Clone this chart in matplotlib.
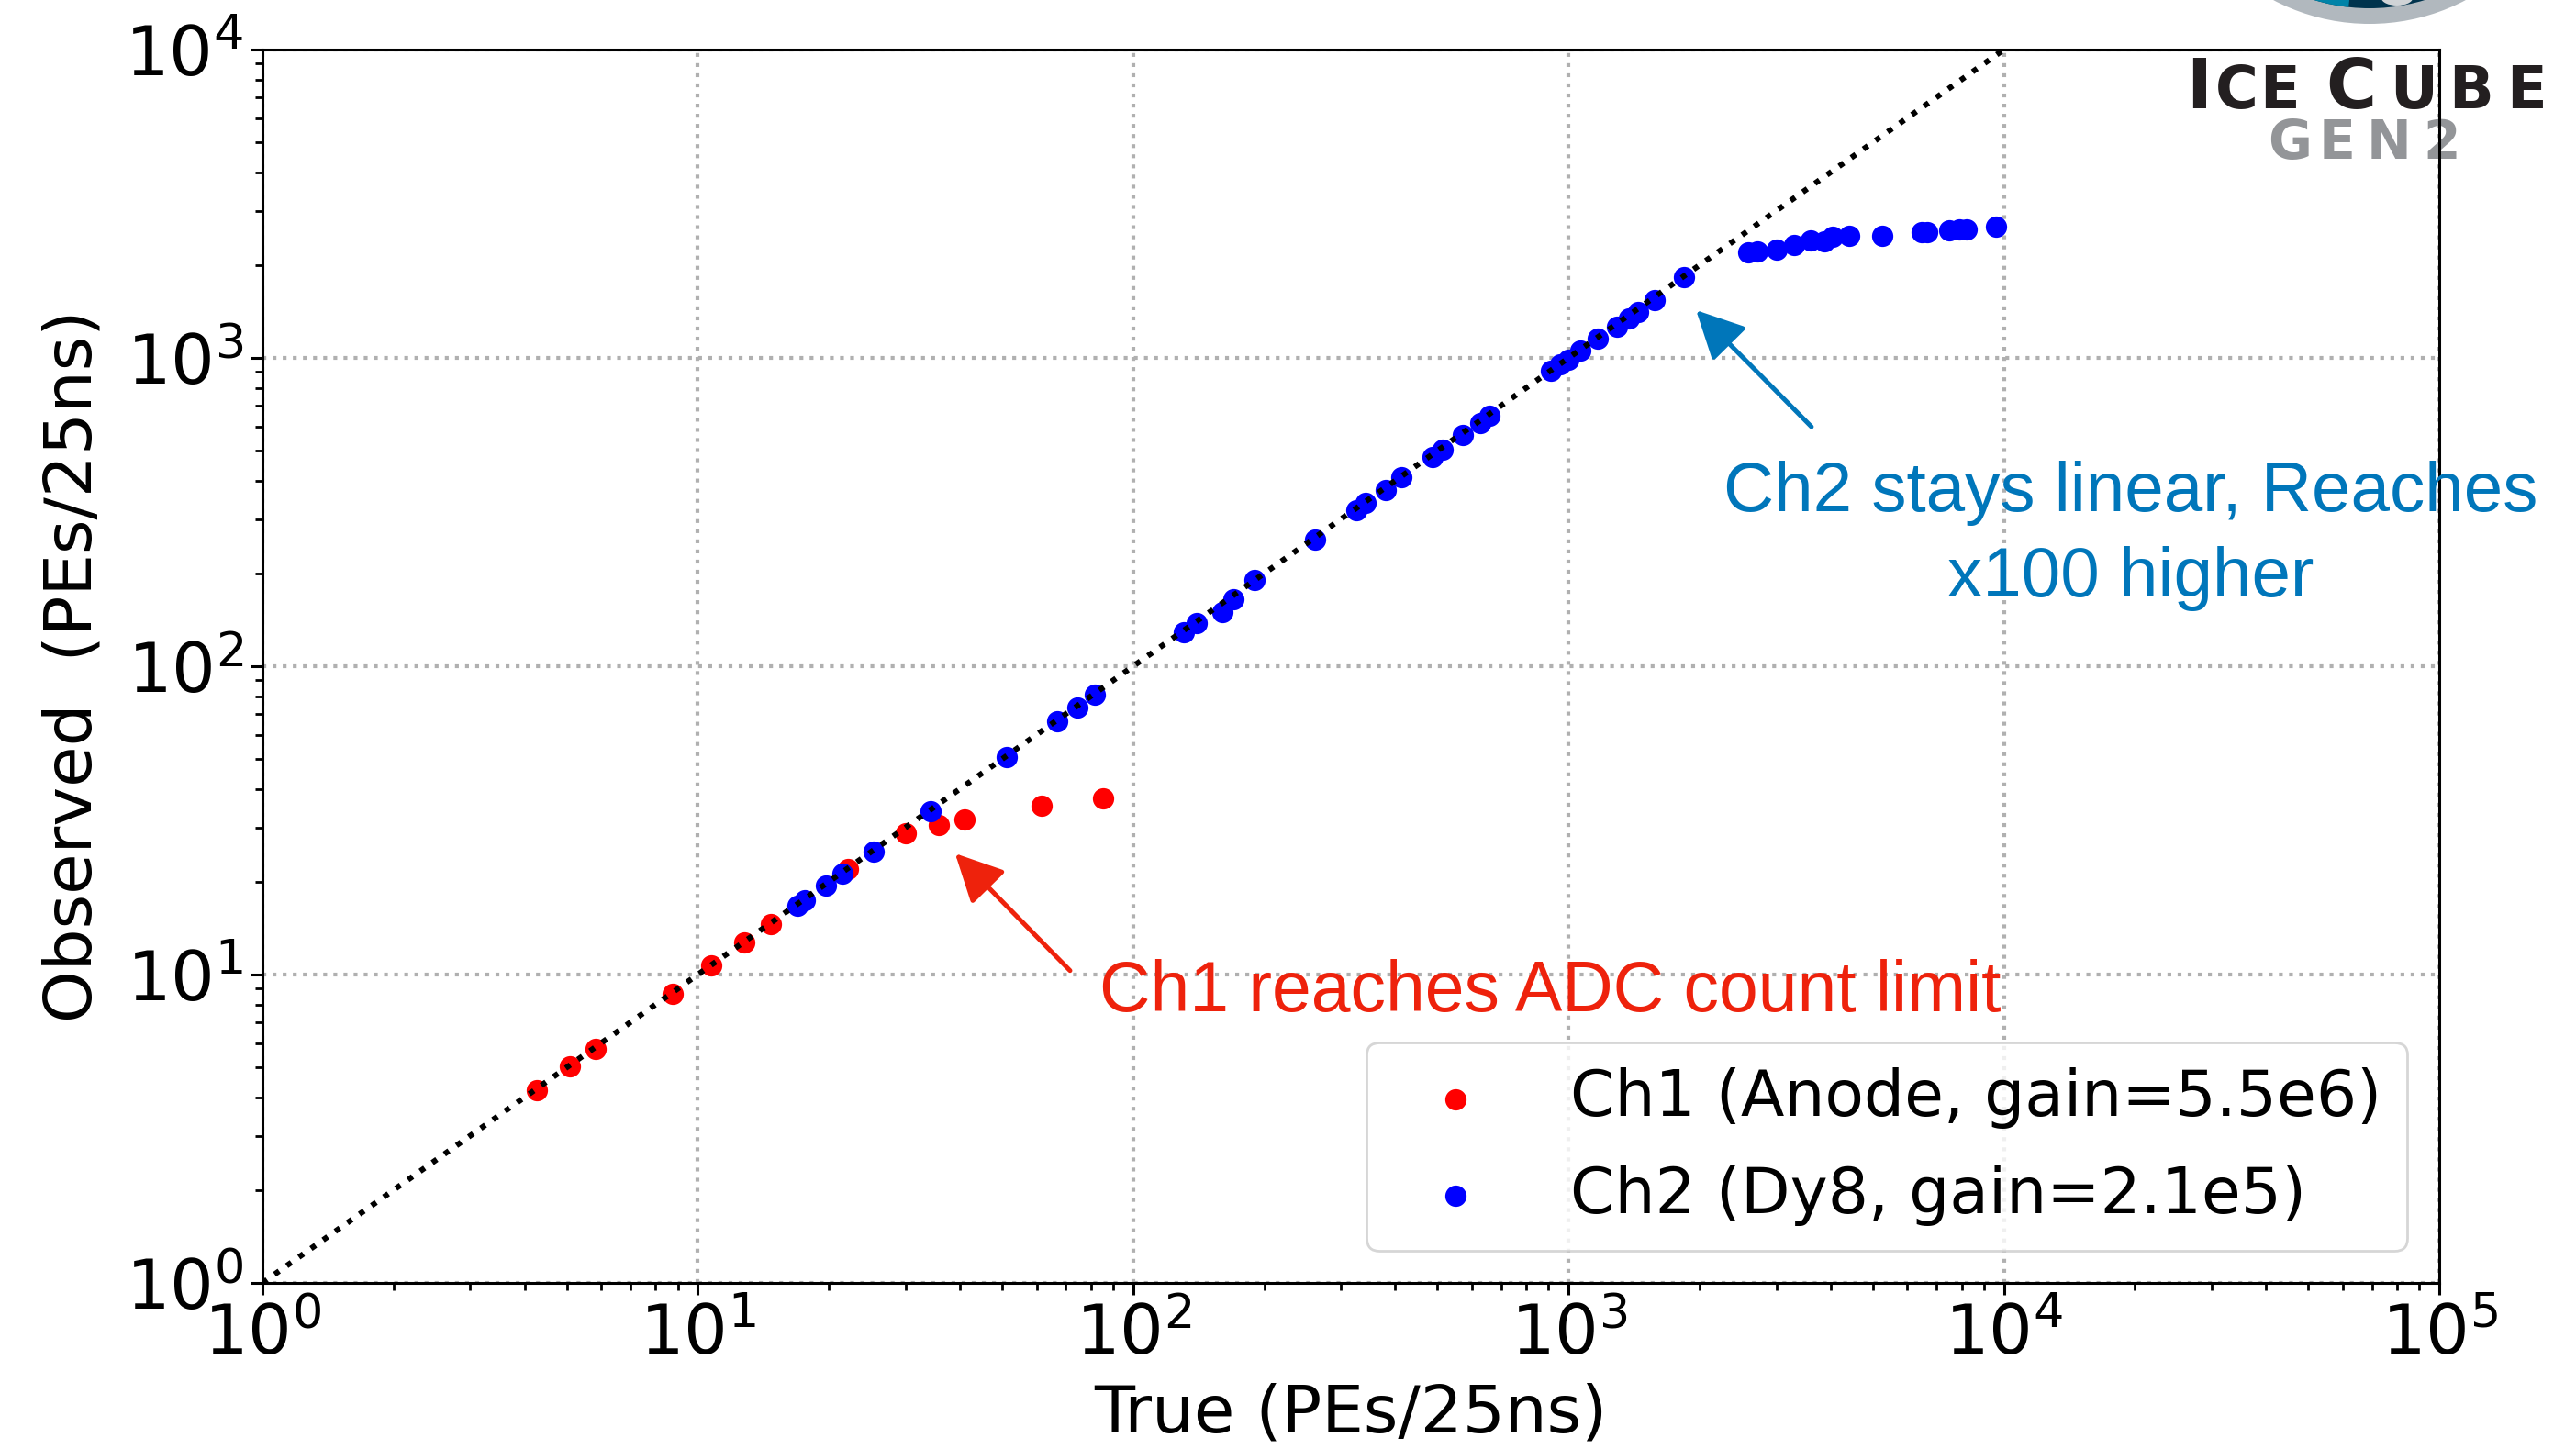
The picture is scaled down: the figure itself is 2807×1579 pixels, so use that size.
import numpy as np
import matplotlib
matplotlib.use("Agg")
import matplotlib.pyplot as plt
from matplotlib import patches, transforms

# ---------------- data ----------------
ch1_true = [4.27, 5.08, 5.83, 8.75, 10.75, 12.8, 14.7, 22.1, 30.1, 35.7, 41.0, 61.6, 85.4]
ch1_obs = [4.21, 5.03, 5.75, 8.68, 10.73, 12.7, 14.6, 22.0, 28.7, 30.5, 31.9, 35.4, 37.3]

ch2_true = [16.9, 17.6, 19.7, 21.5, 25.3, 34.3, 51.3, 66.9, 74.6, 81.6,
            131, 140, 160, 170, 190,
            262, 325, 341, 380, 412, 486, 515, 571, 626, 658,
            910, 956, 997, 1066, 1165, 1291, 1374, 1444, 1575, 1841,
            2590, 2713, 3004, 3299, 3606, 3873, 4033, 4413, 5250,
            6460, 6665, 7470, 7900, 8200, 9570]
ch2_obs = [16.7, 17.4, 19.4, 21.2, 25.0, 33.9, 50.7, 66.3, 73.6, 81.1,
           129, 138, 150, 165, 190,
           258, 321, 338, 374, 410, 478, 504, 561, 615, 650,
           908, 951, 989, 1059, 1154, 1262, 1346, 1410, 1537, 1822,
           2200, 2215, 2250, 2318, 2410, 2382, 2466, 2494, 2494,
           2553, 2553, 2594, 2613, 2613, 2672]

diag = [1, 1e5]

xlim = (1, 1e5)
ylim = (1, 1e4)

ch1_label = "Ch1 (Anode, gain=5.5e6)"
ch2_label = "Ch2 (Dy8, gain=2.1e5)"
xlabel = "True (PEs/25ns)"
ylabel = "Observed  (PEs/25ns)"
ch1_note = "Ch1 reaches ADC count limit"
ch2_note = ["Ch2 stays linear, Reaches", "x100 higher"]

# ---------------- figure ----------------
W, H, DPI = 2807, 1579, 200
fig = plt.figure(figsize=(W / DPI, H / DPI), dpi=DPI)
ax = fig.add_axes([286 / W, 1 - 1398 / H, (2658 - 286) / W, (1398 - 54) / H])

ax.set_xscale("log")
ax.set_yscale("log")
ax.set_xlim(*xlim)
ax.set_ylim(*ylim)

ax.scatter(ch1_true, ch1_obs, s=70, color="#ff0000", label=ch1_label, zorder=2, linewidths=0)
ax.scatter(ch2_true, ch2_obs, s=70, color="#0000ff", label=ch2_label, zorder=2.1, linewidths=0)
ax.plot(diag, diag, linestyle=":", color="black", lw=2.2, zorder=3)

ax.grid(True, which="major", linestyle=":", color="#b0b0b0", lw=1.5)
ax.set_axisbelow(True)

for sp in ax.spines.values():
    sp.set_linewidth(1.1)
ax.tick_params(which="major", labelsize=27, length=4.6, width=1.1, pad=3)
ax.tick_params(which="minor", length=2.8, width=1.0)

ax.set_xlabel(xlabel, fontsize=26, labelpad=5)
ax.set_ylabel(ylabel, fontsize=26, labelpad=8)

leg = ax.legend(loc="lower right", fontsize=25, scatterpoints=1, borderaxespad=0.5,
                labelspacing=0.55)

# ---------------- annotations ----------------
red = "#EE220C"
blue = "#0076BA"
ann_font = ["Liberation Sans", "DejaVu Sans"]

ax.annotate("", xy=(39.0, 24.7), xytext=(71.6, 10.3),
            arrowprops=dict(arrowstyle="-|>", color=red, lw=1.8, mutation_scale=40,
                            shrinkA=0, shrinkB=0))
ax.annotate("", xy=(1963, 1428), xytext=(3614, 598),
            arrowprops=dict(arrowstyle="-|>", color=blue, lw=1.8, mutation_scale=40,
                            shrinkA=0, shrinkB=0))

fig.text(1198 / W, 1 - 1102 / H, ch1_note, color=red, fontsize=27.7,
         family=ann_font, ha="left", va="baseline")
fig.text(2322 / W, 1 - 557 / H, ch2_note[0], color=blue, fontsize=27.5,
         family=ann_font, ha="center", va="baseline")
fig.text(2322 / W, 1 - 650 / H, ch2_note[1], color=blue, fontsize=27.5,
         family=ann_font, ha="center", va="baseline")

# ---------------- IceCube Gen2 logo (approximation) ----------------
ident = transforms.IdentityTransform()
cx, cy = 2582, H + 199
fig.add_artist(patches.Circle((cx, cy), 225, transform=ident, color="#B1B8BE", lw=0))
fig.add_artist(patches.Circle((cx, cy), 208, transform=ident, color="#00334D", lw=0))
fig.add_artist(patches.Wedge((cx, cy), 208, 200, 263.7, transform=ident, color="#0083A8", lw=0))
fig.add_artist(patches.Ellipse((2612, H + 2), 34, 16, transform=ident, color="#D0D3D6", lw=0))

logo_letters = [("I", 2396, 27), ("C", 2437, 23), ("E", 2484, 23),
                ("C", 2562, 27), ("U", 2630, 23), ("B", 2692, 23), ("E", 2753, 23)]
for ch, x, fs in logo_letters:
    ax.text(x / W, 1 - 118 / H, ch, transform=fig.transFigure, fontsize=fs,
            fontweight="bold", color="#231F20", ha="center", va="baseline",
            clip_on=False, zorder=2, family="DejaVu Sans")
gen_letters = [("G", 2495), ("E", 2547), ("N", 2603), ("2", 2661)]
for ch, x in gen_letters:
    ax.text(x / W, 1 - 173 / H, ch, transform=fig.transFigure, fontsize=21,
            fontweight="bold", color="#939598", ha="center", va="baseline",
            clip_on=False, zorder=2, family="DejaVu Sans")

fig.savefig("out.png", dpi=DPI)
